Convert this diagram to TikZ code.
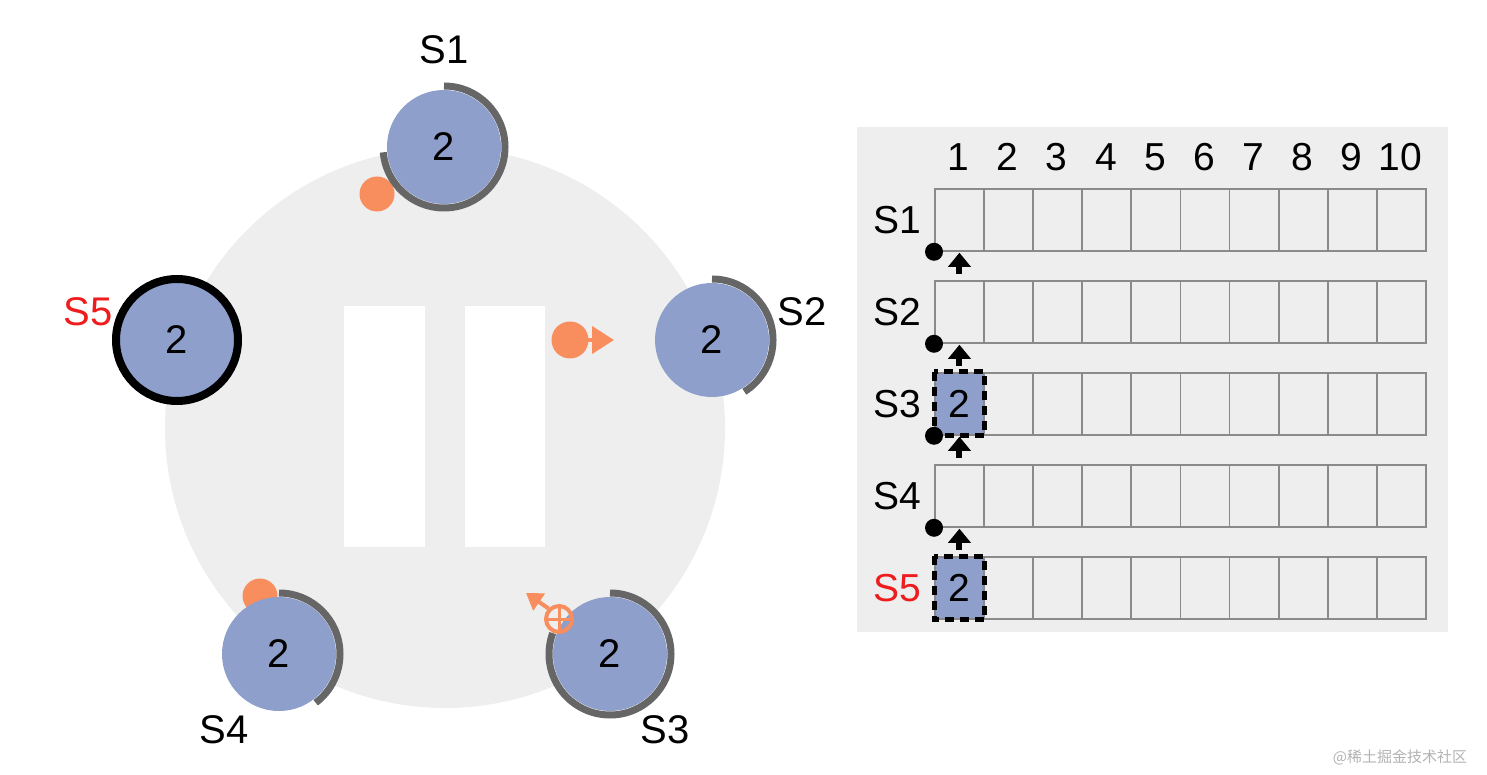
\documentclass[tikz,border=0pt]{standalone}
\usepackage{fontspec}
\setmainfont{Liberation Sans}
\newfontfamily\cjkfont{Noto Sans CJK SC}
\usetikzlibrary{arrows.meta}
\definecolor{nodeblue}{HTML}{8E9FCB}
\definecolor{ringgray}{HTML}{666666}
\definecolor{bggray}{HTML}{EEEEEE}
\definecolor{orng}{HTML}{F88D5E}
\definecolor{gridgray}{HTML}{8A8A8A}
\definecolor{redlab}{HTML}{EE1C1C}
\begin{document}
\begin{tikzpicture}[x=1pt,y=1pt,
  srv/.style={circle, fill=nodeblue, minimum size=114pt, inner sep=0pt, font=\fontsize{40}{44}\selectfont},
  ring/.style={draw=ringgray, line width=7pt},
  lab/.style={font=\fontsize{40}{44}\selectfont, inner sep=0pt},
  tlab/.style={font=\fontsize{39}{43}\selectfont, inner sep=0pt},
  odot/.style={circle, fill=orng, minimum size=35pt, inner sep=0pt},
  cell/.style={draw=gridgray, line width=1.8pt, minimum width=49.1pt, minimum height=62pt, inner sep=0pt, anchor=north west, font=\fontsize{39}{43}\selectfont},
  bdot/.style={circle, fill=black, minimum size=18pt, inner sep=0pt},
  dashbox/.style={draw=black, line width=5pt, dash pattern=on 9pt off 6pt}
]
\useasboundingbox (0,0) rectangle (1487,774);
% background circle and pause bars
\node[circle, fill=bggray, minimum size=560pt, inner sep=0pt] (bg) at (445,346) {};
\fill[white] (344,227) rectangle (425,468);
\fill[white] (465,227) rectangle (545,468);
% orange dots behind servers
\node[odot] (o1) at (377,580) {};
\node[odot] (o4) at (260,178) {};
\node[odot, minimum size=37pt] (o2) at (570,434) {};
\coordinate (o2tip) at (614,434);
\draw[orng, line width=4pt, -{Triangle[length=22pt,width=27pt]}] (o2.center) -- (o2tip);
% servers
\node[srv] (s1) at (444,627) {2};
\node[srv] (s2) at (712,434) {2};
\node[srv] (s3) at (610,120) {2};
\node[srv] (s4) at (279,120) {2};
\node[srv, minimum size=122pt, draw=black, line width=8pt] (s5) at (177,434) {2};
% rings
\draw[ring] ([shift={(90:61)}]s1.center) arc[start angle=90, end angle=-175, radius=61];
\draw[ring] ([shift={(90:61)}]s2.center) arc[start angle=90, end angle=-58, radius=61];
\draw[ring] ([shift={(90:61)}]s3.center) arc[start angle=90, end angle=-200, radius=61];
\draw[ring] ([shift={(90:61)}]s4.center) arc[start angle=90, end angle=-53, radius=61];
% crossed circle near S3
\node[circle, draw=orng, line width=4pt, minimum size=26pt, inner sep=0pt] (x3) at (559,155) {};
\draw[orng, line width=3pt] (x3.north) -- (x3.south) (x3.west) -- (x3.east);
\coordinate (x3tip) at (526,181);
\draw[orng, line width=4pt, -{Triangle[length=16pt,width=20pt]}] (x3.north west) -- (x3tip);
% labels
\node[lab] (l1) at (444,724) {S1};
\node[lab] (l2) at (802,462) {S2};
\node[lab] (l3) at (665,44) {S3};
\node[lab] (l4) at (224,44) {S4};
\node[lab, text=redlab] (l5) at (88,462) {S5};
% table
\fill[bggray] (857,142) rectangle (1448,647);
\foreach \j in {1,...,10} {
  \node[tlab] (h\j) at ({934+49.1*(\j-0.5)},617) {\j};
}
\foreach \i in {0,...,4} {
  \foreach \j in {0,...,9} {
    \node[cell] (c\i-\j) at ({934+49.1*\j},{586-92*\i}) {};
  }
}
\foreach \i/\t in {0/S1,1/S2,2/S3,3/S4} {
  \node[tlab] (r\i) at ([xshift=-62pt]c\i-0.center) {\t};
}
\node[tlab, text=redlab] (r4) at ([xshift=-62pt]c4-0.center) {S5};
% filled cells
\node[cell, fill=nodeblue] (f2) at (c2-0.north west) {2};
\node[cell, fill=nodeblue] (f4) at (c4-0.north west) {2};
\draw[dashbox] (f2.north west) rectangle (f2.south east);
\draw[dashbox] (f4.north west) rectangle (f4.south east);
% dots and arrows
\foreach \i in {0,...,3} {
  \node[bdot] (d\i) at (c\i-0.south west) {};
  \coordinate (at\i) at ([yshift=-1pt]c\i-0.south);
  \fill (at\i) -- ++(-11.5,-14) -- ++(23,0) -- cycle;
  \fill ([xshift=-3pt,yshift=-13pt]at\i) rectangle ([xshift=3pt,yshift=-21pt]at\i);
}
% watermark
\node[font=\cjkfont\fontsize{15}{18}\selectfont, text=black!30, inner sep=0pt] (wm) at (1400,17) {@稀土掘金技术社区};
\end{tikzpicture}
\end{document}
